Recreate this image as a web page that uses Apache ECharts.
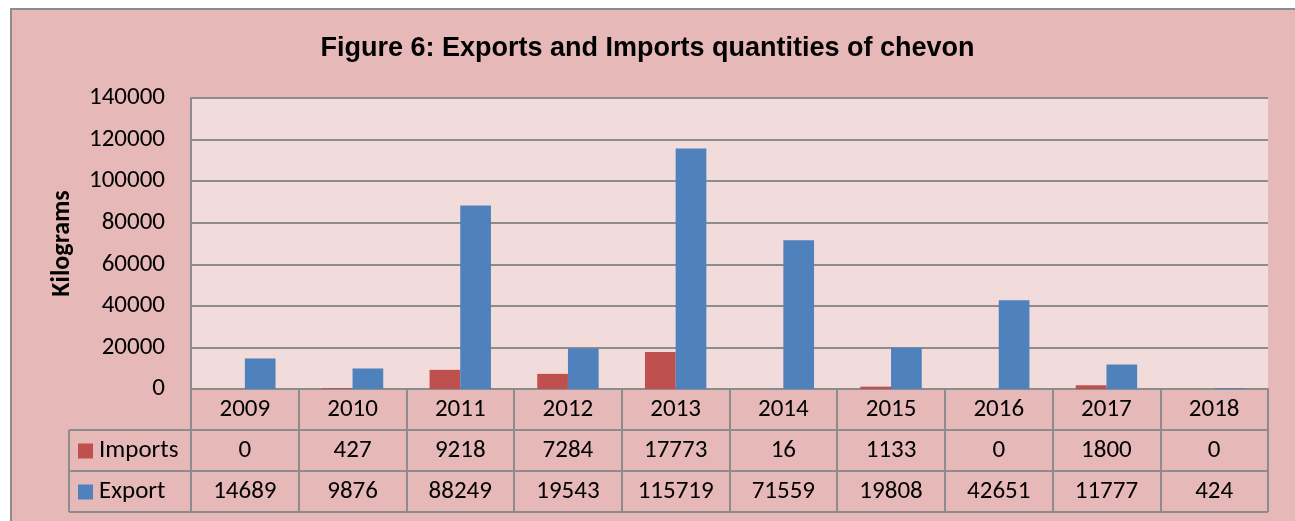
<!DOCTYPE html>
<html lang="en">
<head>
  <meta charset="UTF-8">
  <title>Figure 6: Exports and Imports quantities of chevon</title>
  <script src="https://cdn.jsdelivr.net/npm/echarts@6.0.0/dist/echarts.min.js"></script>
  <style>
    body { margin: 0; background: #fff; }
    #chart { width: 1295px; height: 521px; }
  </style>
</head>
<body>
  <div id="chart"></div>

  <script>
    // data
    const years = ['2009', '2010', '2011', '2012', '2013', '2014', '2015', '2016', '2017', '2018'];
    const imports = [0, 427, 9218, 7284, 17773, 16, 1133, 0, 1800, 0];
    const exports = [14689, 9876, 88249, 19543, 115719, 71559, 19808, 42651, 11777, 424];

    const lineColor = '#8c8c8c';
    const numFont = 'Carlito, Lato, "Open Sans", sans-serif';
    const fs = 25;

    const chart = echarts.init(document.getElementById('chart'));

    const option = {
      backgroundColor: '#fff',
      animation: false,
      title: {
        text: 'Figure 6: Exports and Imports quantities of chevon',
        left: 'center',
        top: 30,
        textStyle: {
          fontFamily: '"Liberation Sans Narrow", "Arial Narrow", "Liberation Sans", sans-serif',
          fontWeight: 'bold',
          fontSize: 27,
          color: '#000'
        }
      },
      grid: { left: 191, top: 98, width: 1077, height: 291 },
      xAxis: {
        type: 'category',
        data: years,
        axisLine: { lineStyle: { color: lineColor, width: 2 } },
        axisTick: { show: true, length: 123, lineStyle: { color: lineColor, width: 2 } },
        axisLabel: { fontSize: fs, color: '#000', fontFamily: numFont, margin: 8 }
      },
      yAxis: {
        type: 'value',
        min: 0,
        max: 140000,
        interval: 20000,
        name: 'Kilograms',
        nameLocation: 'middle',
        nameGap: 116,
        nameTextStyle: { fontSize: 26, fontWeight: 'bold', color: '#000', fontFamily: numFont },
        axisLine: { show: true, lineStyle: { color: lineColor, width: 2 } },
        axisTick: { show: false },
        axisLabel: {
          fontSize: fs, color: '#000', fontFamily: numFont, margin: 26,
          formatter: function (v) { return String(v); }
        },
        splitLine: { lineStyle: { color: lineColor, width: 2 } },
        splitArea: { show: true, areaStyle: { color: ['#f2dcdb'] } }
      },
      series: [
        {
          name: 'Imports',
          type: 'bar',
          data: imports,
          itemStyle: { color: '#c0504d' },
          barGap: '0%',
          barCategoryGap: '43%'
        },
        {
          name: 'Export',
          type: 'bar',
          data: exports,
          itemStyle: { color: '#4f81bd' }
        }
      ]
    };

    chart.setOption(option);

    // data table under the plot
    function drawTable() {
      const x0 = chart.convertToPixel({ xAxisIndex: 0 }, 0);
      const x1 = chart.convertToPixel({ xAxisIndex: 0 }, 1);
      const band = x1 - x0;
      const left = x0 - band / 2;
      const right = left + band * years.length;
      const tableLeft = 69;
      const rowY = [389, 430, 471, 512];
      const els = [];

      // outer pink frame
      els.push({
        type: 'rect', z: -10, silent: true,
        shape: { x: 11, y: 9, width: 1300, height: 520 },
        style: { fill: '#e6b8b7', stroke: lineColor, lineWidth: 2 }
      });

      [1, 2, 3].forEach(function (r) {
        els.push({
          type: 'line', silent: true,
          shape: { x1: tableLeft, y1: rowY[r], x2: right, y2: rowY[r] },
          style: { stroke: lineColor, lineWidth: 2 }
        });
      });
      els.push({
        type: 'line', silent: true,
        shape: { x1: tableLeft, y1: rowY[1], x2: tableLeft, y2: rowY[3] },
        style: { stroke: lineColor, lineWidth: 2 }
      });

      const rows = [
        { name: 'Imports', color: '#c0504d', values: imports },
        { name: 'Export', color: '#4f81bd', values: exports }
      ];
      rows.forEach(function (row, r) {
        const cy = (rowY[r + 1] + rowY[r + 2]) / 2;
        els.push({
          type: 'rect', silent: true,
          shape: { x: 78, y: cy - 7, width: 15, height: 15 },
          style: { fill: row.color }
        });
        els.push({
          type: 'text', silent: true,
          style: {
            x: 99, y: cy, text: row.name, fill: '#000',
            font: fs + 'px ' + numFont, textAlign: 'left', textVerticalAlign: 'middle'
          }
        });
        row.values.forEach(function (v, i) {
          els.push({
            type: 'text', silent: true,
            style: {
              x: chart.convertToPixel({ xAxisIndex: 0 }, i), y: cy,
              text: String(v), fill: '#000',
              font: fs + 'px ' + numFont, textAlign: 'center', textVerticalAlign: 'middle'
            }
          });
        });
      });

      chart.setOption({ graphic: { elements: els } });
    }

    drawTable();
  </script>
</body>
</html>
